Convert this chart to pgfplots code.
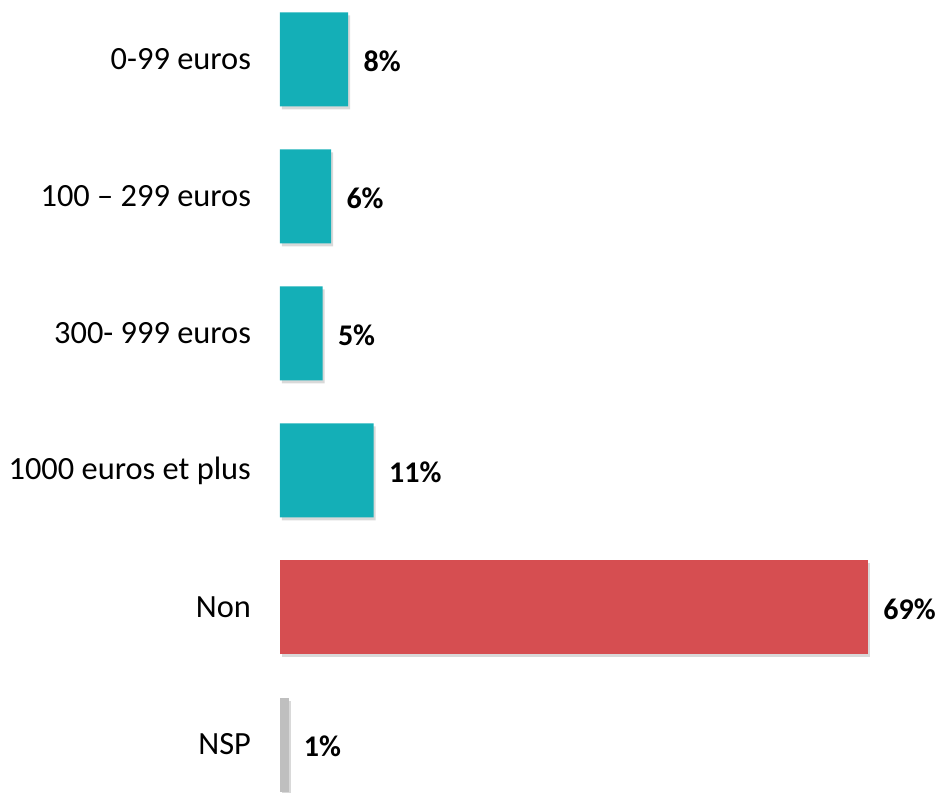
\documentclass[border=0pt]{standalone}
\usepackage{fontspec}
\setmainfont{Carlito}
\usepackage{pgfplots}
\pgfplotsset{compat=1.18}

\definecolor{barteal}{RGB}{20,175,183}
\definecolor{barred}{RGB}{214,78,81}
\definecolor{bargray}{RGB}{191,191,191}

\begin{document}
\begin{tikzpicture}
    \begin{axis}[
        at={(140pt,0pt)}, anchor=south west,
        scale only axis,
        width=329.5pt, height=396.5pt,
        xbar, bar width=47pt, bar shift=0pt,
        xmin=0, xmax=77.33,
        ymin=-0.434, ymax=5.354,
        y dir=reverse,
        ytick={0,1,2,3,4,5},
        yticklabels={0-99 euros, 100 -- 299 euros, 300- 999 euros, 1000 euros et plus, Non, NSP},
        xtick=\empty,
        axis line style={draw=none},
        major tick length=0pt,
        yticklabel style={font=\fontsize{16.2}{19}\selectfont, anchor=east, xshift=-11pt},
        clip=false,
        nodes near coords={\pgfmathprintnumber{\pgfplotspointmeta}\%},
        nodes near coords style={font=\bfseries\fontsize{15}{18}\selectfont, anchor=west, inner sep=0pt, xshift=7.5pt, yshift=-1pt, black},
        /pgf/number format/assume math mode=true,
        every axis plot/.append style={
            draw=none,
            preaction={fill=black!15, draw=none, transform canvas={xshift=1pt, yshift=-1.5pt}}
        },
    ]
        \addplot[fill=barteal] coordinates {(8,0) (6,1) (5,2) (11,3)};
        \addplot[fill=barred] coordinates {(69,4)};
        \addplot[fill=bargray] coordinates {(1,5)};
    \end{axis}
    \pgfresetboundingbox
    \path (0,0) rectangle (469.5pt,396.5pt);
\end{tikzpicture}
\end{document}
